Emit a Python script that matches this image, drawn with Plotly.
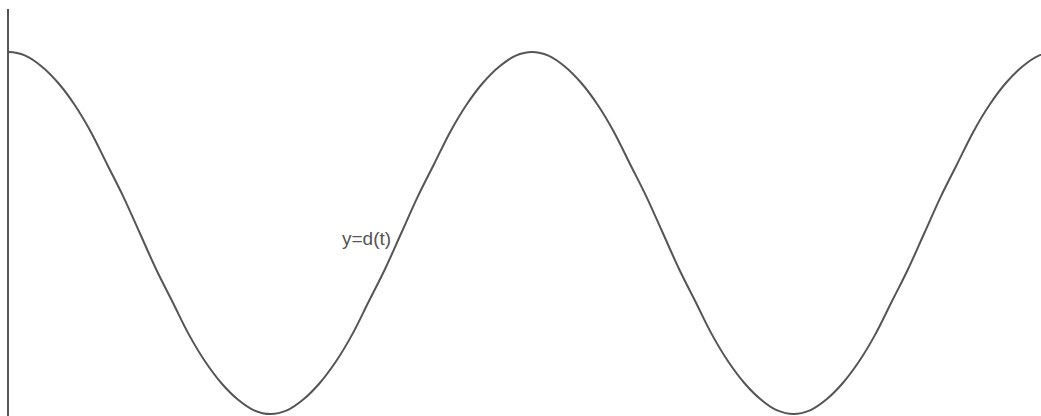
import plotly.graph_objects as go

# sample positions (in periods) and values
t_vals = [i / 32 for i in range(-2, 67)]
quarter = [1.0, 0.98, 0.92, 0.83, 0.71, 0.56, 0.38, 0.20]
half = quarter + [0.0] + [-v for v in reversed(quarter[1:])]
cycle = half + [-v for v in half]
d_vals = [0.92, 0.98] + cycle + cycle + [1.0, 0.98, 0.92]
label_text = "y=d(t)"

fig = go.Figure()
fig.add_trace(go.Scatter(
    x=t_vals, y=d_vals, mode="lines",
    line=dict(color="#555555", width=2, shape="spline", smoothing=1.0),
    hoverinfo="skip", showlegend=False, cliponaxis=True,
))
fig.add_annotation(
    x=0.734, y=-0.03, xref="x", yref="y", text=label_text, showarrow=False,
    xanchor="right", yanchor="middle",
    font=dict(family="Liberation Sans, Arial, sans-serif", size=19, color="#555555"),
)
fig.update_layout(
    width=1041, height=416,
    margin=dict(l=9, r=0, t=9, b=0),
    plot_bgcolor="white", paper_bgcolor="white",
    xaxis=dict(range=[0, 1.973], showgrid=False, zeroline=False, showticklabels=False,
               ticks="", showline=True, linecolor="#eeeeee", linewidth=1),
    yaxis=dict(range=[-1.011, 1.2376], showgrid=False, zeroline=False, showticklabels=False,
               ticks="", showline=True, linecolor="#555555", linewidth=2),
)
fig.write_html("out.html", config={"displayModeBar": False, "staticPlot": True},
               post_script="document.body.style.margin='0';document.body.style.overflow='hidden';")
